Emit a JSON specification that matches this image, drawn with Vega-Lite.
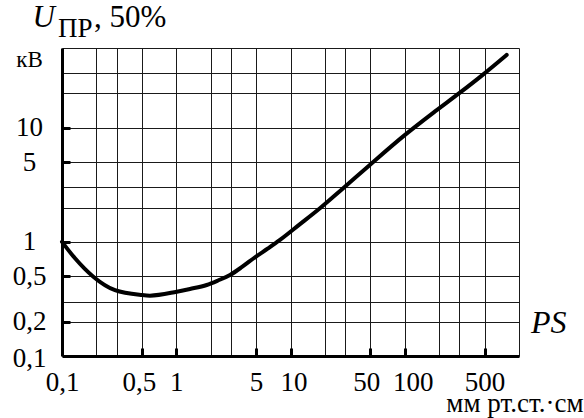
{
  "$schema": "https://vega.github.io/schema/vega-lite/v6.json",
  "width": 457,
  "height": 308,
  "autosize": {"type": "none"},
  "padding": {"left": 62, "top": 48, "right": 65, "bottom": 62},
  "background": "white",
  "config": {"view": {"stroke": null}, "font": "Liberation Serif"},
  "layer": [
    {
      "data": {"values": [
        {"ps": 0.1, "u": 1.0},
        {"ps": 0.13, "u": 0.718},
        {"ps": 0.188, "u": 0.495},
        {"ps": 0.291, "u": 0.377},
        {"ps": 0.491, "u": 0.3425},
        {"ps": 0.588, "u": 0.338},
        {"ps": 1.01, "u": 0.366},
        {"ps": 1.319, "u": 0.3867},
        {"ps": 1.847, "u": 0.419},
        {"ps": 2.32, "u": 0.459},
        {"ps": 2.955, "u": 0.513},
        {"ps": 3.763, "u": 0.603},
        {"ps": 4.89, "u": 0.733},
        {"ps": 6.353, "u": 0.876},
        {"ps": 8.09, "u": 1.04},
        {"ps": 12.11, "u": 1.43},
        {"ps": 18.1, "u": 1.97},
        {"ps": 28.1, "u": 2.88},
        {"ps": 48.9, "u": 4.68},
        {"ps": 100.5, "u": 8.66},
        {"ps": 184, "u": 13.9},
        {"ps": 300, "u": 20.1},
        {"ps": 481, "u": 29.1},
        {"ps": 780, "u": 43.5}
      ]},
      "mark": {"type": "line", "color": "black", "strokeWidth": 4, "interpolate": "monotone", "strokeCap": "round", "strokeJoin": "round"},
      "encoding": {
        "x": {
          "field": "ps", "type": "quantitative",
          "scale": {"type": "log", "domain": [0.1, 1000], "nice": false},
          "axis": {
            "values": [0.1, 0.2, 0.3, 0.5, 1, 2, 3, 5, 10, 20, 30, 50, 100, 200, 300, 500, 1000],
            "labelExpr": "indexof([0.1, 0.5, 1, 5, 10, 50, 100, 500], datum.value) >= 0 ? replace(format(datum.value, ''), '.', ',') : ''",
            "grid": true, "gridColor": "#1a1a1a", "gridWidth": 1,
            "domainColor": "black", "domainWidth": 3,
            "tickSize": -8, "tickWidth": 3, "tickColor": "black",
            "tickOpacity": {"condition": {"test": "indexof([0.5, 1, 5, 10, 50, 100, 500], datum.value) >= 0", "value": 1}, "value": 0},
            "labelFont": "Liberation Serif", "labelFontSize": 27, "labelColor": "black",
            "labelOffset": {"condition": [
              {"test": "datum.value == 50", "value": -4},
              {"test": "datum.value == 100", "value": 8},
              {"test": "datum.value == 10", "value": 3},
              {"test": "datum.value == 0.5", "value": -3}
            ], "value": 0},
            "labelPadding": 42, "labelBaseline": "alphabetic", "labelAlign": "center",
            "labelFlush": false, "labelOverlap": false, "labelBound": false,
            "title": "мм рт.ст.·см",
            "titleFont": "Liberation Serif", "titleFontSize": 27, "titleFontWeight": "normal", "titleColor": "black",
            "titleAnchor": null, "titleAlign": "right", "titleBaseline": "alphabetic",
            "titleX": 521, "titleY": 55
          }
        },
        "y": {
          "field": "u", "type": "quantitative",
          "scale": {"type": "log", "domain": [0.1, 50], "nice": false},
          "axis": {
            "values": [0.1, 0.2, 0.3, 0.5, 1, 2, 3, 5, 10, 20, 30, 50],
            "labelExpr": "datum.value == 50 ? 'кВ' : indexof([0.1, 0.2, 0.5, 1, 5, 10], datum.value) >= 0 ? replace(format(datum.value, ''), '.', ',') : ''",
            "grid": true, "gridColor": "#1a1a1a", "gridWidth": 1,
            "domainColor": "black", "domainWidth": 3,
            "tickSize": -8, "tickWidth": 3, "tickColor": "black",
            "tickOpacity": {"condition": {"test": "indexof([0.2, 0.5, 1, 5, 10], datum.value) >= 0", "value": 1}, "value": 0},
            "labelFont": "Liberation Serif", "labelFontSize": {"condition": {"test": "datum.value == 50", "value": 23}, "value": 27},
            "labelColor": "black",
            "labelOffset": {"condition": [
              {"test": "datum.value == 50", "value": 11},
              {"test": "datum.value == 0.1", "value": 2}
            ], "value": 0},
            "labelPadding": 41, "labelBaseline": "middle", "labelAlign": "center",
            "labelFlush": false, "labelOverlap": false, "labelBound": false,
            "title": "U",
            "titleFont": "Liberation Serif", "titleFontSize": 31, "titleFontStyle": "italic", "titleFontWeight": "normal", "titleColor": "black",
            "titleAngle": 0, "titleAnchor": null, "titleAlign": "left", "titleBaseline": "alphabetic",
            "titleX": -30, "titleY": -22
          }
        }
      }
    },
    {
      "data": {"values": [{"t": "ПР"}]},
      "mark": {"type": "text", "font": "Liberation Serif", "fontSize": 27, "align": "left", "baseline": "alphabetic", "color": "black", "dx": -4, "dy": -11},
      "encoding": {
        "x": {"datum": 0.1, "type": "quantitative"},
        "y": {"datum": 50, "type": "quantitative"},
        "text": {"field": "t"}
      }
    },
    {
      "data": {"values": [{"t": ", 50%"}]},
      "mark": {"type": "text", "font": "Liberation Serif", "fontSize": 31, "align": "left", "baseline": "alphabetic", "color": "black", "dx": 32, "dy": -21},
      "encoding": {
        "x": {"datum": 0.1, "type": "quantitative"},
        "y": {"datum": 50, "type": "quantitative"},
        "text": {"field": "t"}
      }
    },
    {
      "data": {"values": [{"t": "PS"}]},
      "mark": {"type": "text", "font": "Liberation Serif", "fontSize": 32, "fontStyle": "italic", "align": "left", "baseline": "alphabetic", "color": "black", "dx": 12, "dy": 11},
      "encoding": {
        "x": {"datum": 1000, "type": "quantitative"},
        "y": {"datum": 0.2, "type": "quantitative"},
        "text": {"field": "t"}
      }
    }
  ]
}
